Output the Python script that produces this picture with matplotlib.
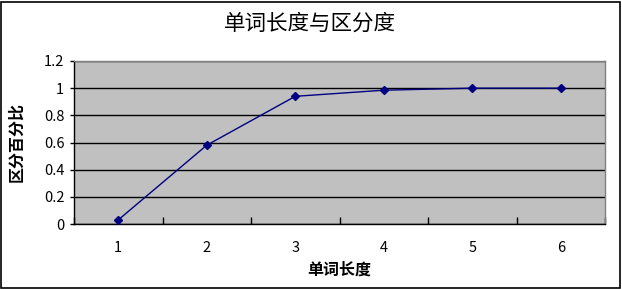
import matplotlib
matplotlib.use("Agg")
import matplotlib.pyplot as plt
from matplotlib.patches import Rectangle

plt.rcParams['font.family'] = ['Noto Sans CJK SC', 'DejaVu Sans']

# data
word_len = [1, 2, 3, 4, 5, 6]
ratio = [0.03, 0.58, 0.94, 0.985, 1.0, 1.0]
yticks = [0, 0.2, 0.4, 0.6, 0.8, 1, 1.2]
ytick_labels = ['0', '0.2', '0.4', '0.6', '0.8', '1', '1.2']

navy = '#000080'

fig = plt.figure(figsize=(6.22, 2.89), dpi=100)
fig.patch.set_facecolor('white')
ax = fig.add_axes([74 / 622, 1 - 224 / 289, 531 / 622, 163 / 289])
ax.set_facecolor('#C0C0C0')

ax.plot(word_len, ratio, color=navy, lw=1, marker='D', ms=4.5,
        mfc=navy, mec=navy, zorder=3)

ax.set_xlim(0.5, 6.5)
ax.set_ylim(0, 1.2)
ax.set_yticks(yticks)
ax.set_yticklabels(ytick_labels)
ax.yaxis.grid(True, color='black', lw=1)
ax.set_axisbelow(True)

# category axis: tick marks between categories, labels at centres
ax.set_xticks([0.5 + i for i in range(7)])
ax.set_xticklabels([])
ax.set_xticks(word_len, minor=True)
ax.set_xticklabels([str(v) for v in word_len], minor=True)
ax.tick_params(axis='x', which='major', direction='in', length=5, width=1, color='black')
ax.tick_params(axis='x', which='minor', length=0, pad=12, labelsize=10.5)
ax.tick_params(axis='y', direction='out', length=3, width=1, pad=4, labelsize=10.5)

for side in ['left', 'bottom']:
    ax.spines[side].set_color('black')
    ax.spines[side].set_linewidth(1)
for side in ['top', 'right']:
    ax.spines[side].set_color('#808080')
    ax.spines[side].set_linewidth(1)

fig.text(310 / 622, 1 - 24 / 289, '单词长度与区分度', ha='center', va='center',
         fontsize=15.5)
ax.set_xlabel('单词长度', fontsize=11.5, fontweight='bold', labelpad=5)
ax.set_ylabel('区分百分比', fontsize=11.5, fontweight='bold', labelpad=14)

fig.patches.append(Rectangle((0.5 / 622, 1.5 / 289), 619 / 622, 286 / 289,
                             transform=fig.transFigure, fill=False,
                             edgecolor='black', lw=1.2))

fig.savefig('out.png', dpi=100)
